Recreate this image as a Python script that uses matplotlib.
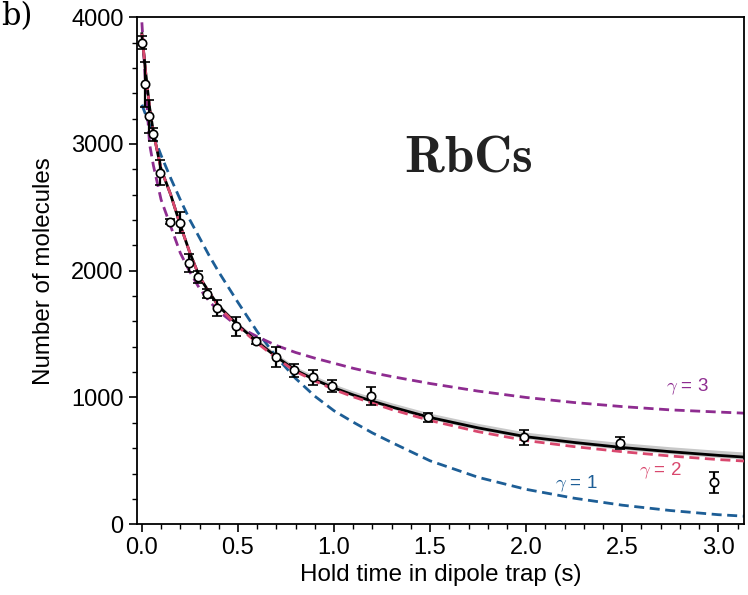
import matplotlib.pyplot as plt
import numpy as np

plt.rcParams['font.family'] = ['Liberation Sans', 'DejaVu Sans']
plt.rcParams['mathtext.fontset'] = 'cm'

# measured data
t_data = [0.0, 0.016, 0.036, 0.057, 0.095, 0.147, 0.197, 0.245, 0.29, 0.34, 0.39,
          0.49, 0.595, 0.70, 0.79, 0.89, 0.99, 1.19, 1.49, 1.99, 2.49, 2.98]
n_data = [3800, 3470, 3220, 3075, 2775, 2385, 2380, 2060, 1950, 1820, 1705,
          1560, 1445, 1320, 1215, 1160, 1090, 1010, 845, 685, 640, 330]
n_err = [50, 180, 130, 50, 100, 20, 80, 70, 50, 35, 65,
         75, 25, 80, 50, 60, 45, 70, 35, 60, 50, 80]

# curves
t_curve = [0.0, 0.02, 0.04, 0.06, 0.1, 0.15, 0.2, 0.25, 0.3, 0.35, 0.4, 0.5,
           0.6, 0.7, 0.8, 0.9, 1.0, 1.1, 1.2, 1.3, 1.5, 1.75, 2.0, 2.25, 2.5,
           2.75, 3.0, 3.15]
n_fit = [3870, 3560, 3290, 3090, 2800, 2600, 2360, 2140, 1950, 1830, 1720, 1570,
         1440, 1320, 1215, 1140, 1075, 1020, 970, 925, 842, 760, 690, 645, 605,
         572, 543, 528]
band = [60, 50, 40, 35, 30, 25, 20, 20, 20, 20, 20, 22,
        24, 26, 28, 30, 30, 31, 32, 33, 34, 35, 36, 37, 38,
        39, 40, 40]
n_g2 = [3870, 3560, 3290, 3090, 2800, 2600, 2360, 2140, 1950, 1830, 1715, 1560,
        1430, 1310, 1205, 1130, 1062, 1005, 955, 905, 818, 730, 660, 612, 572,
        538, 510, 497]
n_g1 = [3310, 3230, 3150, 3070, 2910, 2730, 2560, 2400, 2260, 2120, 1990, 1750,
        1520, 1320, 1150, 1010, 895, 805, 720, 645, 500, 370, 275, 205, 150,
        108, 75, 62]
n_g3 = [3960, 3450, 3000, 2830, 2560, 2350, 2140, 1990, 1860, 1760, 1680, 1560,
        1480, 1410, 1355, 1310, 1270, 1230, 1195, 1165, 1110, 1050, 1000, 960, 928,
        902, 885, 875]

blue = '#1d5e96'
purple = '#8e2c90'
red = '#d9486e'

fig = plt.figure(figsize=(7.48, 5.95), dpi=100)
ax = fig.add_axes([0.183, 0.119, 0.812, 0.852])

t_c = np.array(t_curve)
fit = np.array(n_fit)
bw = np.array(band)
ax.fill_between(t_c, fit - bw * 0.4, fit + bw, color='#c8c8c8', lw=0, zorder=1)
ax.plot(t_c, n_g1, '--', color=blue, lw=2.0, dashes=(3.6, 2.0), zorder=2)
ax.plot(t_c, n_g3, '--', color=purple, lw=2.0, dashes=(3.6, 2.0), zorder=2)
ax.plot(t_c, fit, '-', color='black', lw=2.0, zorder=3)
ax.plot(t_c, n_g2, '--', color=red, lw=2.0, dashes=(3.6, 2.0), zorder=4)

ax.errorbar(t_data, n_data, yerr=n_err, fmt='o', color='black', mfc='white',
            mec='black', ms=6, mew=1.2, elinewidth=1.6, capsize=3.5, capthick=1.4,
            zorder=5)

ax.text(1.70, 2890, r'$\mathbf{RbCs}$', fontsize=38, ha='center', va='center',
        color='#222222')
ax.text(2.84, 1085, r'$\gamma$ = 3', color=purple, fontsize=13.5, ha='center', va='center')
ax.text(2.70, 420, r'$\gamma$ = 2', color=red, fontsize=13.5, ha='center', va='center')
ax.text(2.26, 318, r'$\gamma$ = 1', color=blue, fontsize=13.5, ha='center', va='center')

ax.set_xlim(-0.026, 3.135)
ax.set_ylim(0, 4000)
ax.set_xticks([0.0, 0.5, 1.0, 1.5, 2.0, 2.5, 3.0])
ax.set_xticklabels(['0.0', '0.5', '1.0', '1.5', '2.0', '2.5', '3.0'])
ax.set_xticks(np.arange(0, 3.15, 0.1), minor=True)
ax.set_yticks([0, 1000, 2000, 3000, 4000])
ax.set_yticks(np.arange(0, 4001, 200), minor=True)
ax.tick_params(which='major', direction='out', length=6, width=1.2, labelsize=17)
ax.tick_params(which='minor', direction='out', length=3.5, width=1.0)
for s in ax.spines.values():
    s.set_linewidth(1.3)

ax.set_xlabel('Hold time in dipole trap (s)', fontsize=17.4, labelpad=3)
ax.set_ylabel('Number of molecules', fontsize=17.4, labelpad=12)

fig.text(0.002, 0.998, 'b)', fontsize=22, family='DejaVu Serif', va='top', ha='left')

plt.savefig('out.png', dpi=100)
